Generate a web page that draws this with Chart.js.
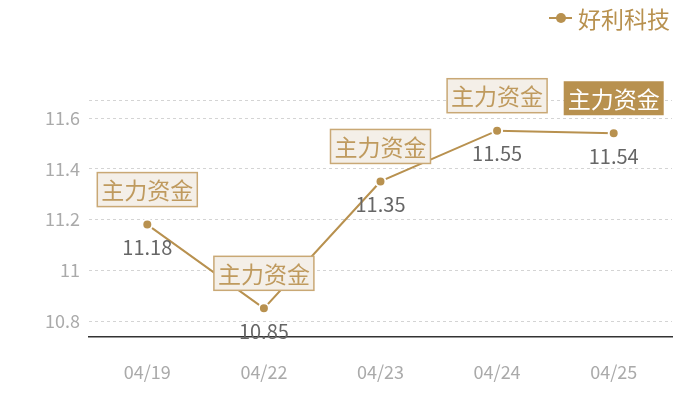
<!DOCTYPE html>
<html><head><meta charset="utf-8">
<script src="https://cdn.jsdelivr.net/npm/chart.js@4"></script>
<style>html,body{margin:0;padding:0;background:#fff}#w{width:700px;height:400px}</style>
</head><body><div id="w"><canvas id="c" width="700" height="400"></canvas></div>
<script>
const categories = ['04/19','04/22','04/23','04/24','04/25'];
const prices = [11.18, 10.85, 11.35, 11.55, 11.54];
const yTicks = [10.8, 11, 11.2, 11.4, 11.6];
const seriesName = '好利科技';
const tagText = '主力资金';

const GOLD = '#b8914f';
const FONT = '"Noto Sans CJK SC", "Noto Sans", sans-serif';

const labelPlugin = {
  id: 'labels',
  afterDatasetsDraw(chart) {
    const ctx = chart.ctx;
    const meta = chart.getDatasetMeta(0);
    ctx.save();
    meta.data.forEach((pt, i) => {
      const x = pt.x, y = pt.y;
      // value label
      ctx.font = '20px ' + FONT;
      ctx.fillStyle = '#666';
      ctx.textAlign = 'center';
      ctx.textBaseline = 'middle';
      ctx.fillText(prices[i].toFixed(2), x, y + 23);
      // tag box
      ctx.font = '23px ' + FONT;
      const tw = ctx.measureText(tagText).width;
      const bw = tw + 8, bh = 34;
      const bx = x - bw / 2, by = y - 35 - bh / 2;
      const last = i === prices.length - 1;
      ctx.fillStyle = last ? '#b8914f' : '#f4efe8';
      ctx.fillRect(bx, by, bw, bh);
      if (!last) {
        ctx.strokeStyle = '#c9a875';
        ctx.lineWidth = 1.5;
        ctx.strokeRect(bx, by, bw, bh);
      }
      ctx.fillStyle = last ? '#ffffff' : '#bf9a5e';
      ctx.fillText(tagText, x, by + bh / 2 + 1);
    });
    // legend
    ctx.strokeStyle = GOLD;
    ctx.lineWidth = 2;
    ctx.beginPath(); ctx.moveTo(549, 18); ctx.lineTo(572, 18); ctx.stroke();
    ctx.fillStyle = GOLD;
    ctx.beginPath(); ctx.arc(561, 18, 5, 0, Math.PI * 2); ctx.fill();
    ctx.font = '23px ' + FONT;
    ctx.textAlign = 'left';
    ctx.fillStyle = GOLD;
    ctx.fillText(seriesName, 578, 19);
    ctx.restore();
  }
};

new Chart(document.getElementById('c'), {
  type: 'line',
  data: {
    labels: categories,
    datasets: [{
      label: seriesName,
      data: prices,
      borderColor: GOLD,
      borderWidth: 2,
      backgroundColor: GOLD,
      pointBackgroundColor: GOLD,
      pointBorderColor: '#ffffff',
      pointBorderWidth: 2,
      pointRadius: 5,
      tension: 0,
      fill: false
    }]
  },
  options: {
    responsive: false,
    animation: false,
    devicePixelRatio: 1,
    layout: { padding: { top: 100, right: 28, left: 0, bottom: 0 } },
    plugins: { legend: { display: false }, tooltip: { enabled: false } },
    scales: {
      x: {
        offset: true,
        grid: { display: false, drawTicks: false },
        border: { display: true, color: '#333', width: 1.5 },
        ticks: { color: '#aaa', font: { size: 18, family: FONT }, padding: 24 },
        afterFit(s) { s.height = 63; }
      },
      y: {
        min: 10.737, max: 11.671,
        afterBuildTicks(s) {
          s.ticks = yTicks.map(v => ({ value: v })).concat([{ value: 11.671 }]);
        },
        grid: { color: '#d4d4d4', drawTicks: false, lineWidth: 1 },
        border: { display: false, dash: [3, 3] },
        ticks: {
          color: '#aaa', font: { size: 18, family: FONT }, padding: 9,
          callback: (v) => yTicks.some(t => Math.abs(t - v) < 1e-6) ? String(Number(v.toFixed(2))) : ''
        },
        afterFit(s) { s.width = 89; }
      }
    }
  },
  plugins: [labelPlugin]
});
</script></body></html>
